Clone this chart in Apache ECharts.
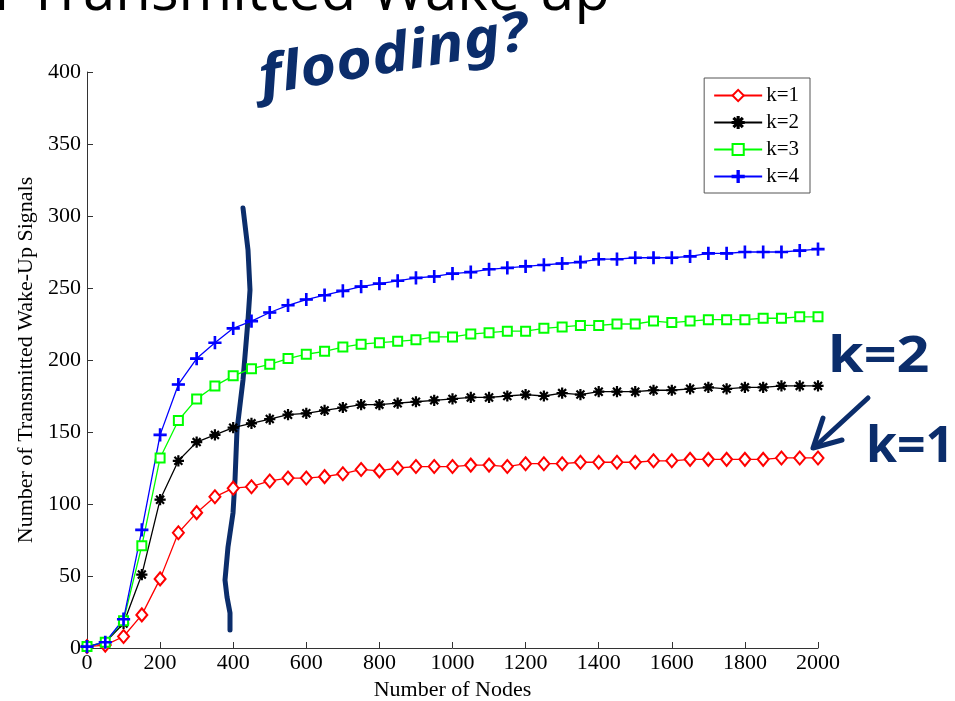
<!DOCTYPE html>
<html>
<head>
<meta charset="utf-8">
<script src="https://cdn.jsdelivr.net/npm/echarts@6/dist/echarts.min.js"></script>
<style>
    html, body { margin: 0; padding: 0; background: #fff; }
    #container { width: 955px; height: 701px; }
</style>
</head>
<body>
<div id="container"></div>
<script>
    // 节点数 (x轴)
    let nodes = [0, 50, 100, 150, 200, 250, 300, 350, 400, 450, 500, 550, 600, 650, 700, 750, 800, 850, 900, 950,
        1000, 1050, 1100, 1150, 1200, 1250, 1300, 1350, 1400, 1450, 1500, 1550, 1600, 1650, 1700, 1750, 1800, 1850, 1900, 1950, 2000];
    let k1 = [1, 2, 8, 23, 48, 80, 94, 105, 111, 112, 116, 118, 118, 119, 121, 124, 123, 125, 126, 126,
        126, 127, 127, 126, 128, 128, 128, 129, 129, 129, 129, 130, 130, 131, 131, 131, 131, 131, 132, 132, 132];
    let k2 = [1, 4, 17, 51, 103, 130, 143, 148, 153, 156, 159, 162, 163, 165, 167, 169, 169, 170, 171, 172,
        173, 174, 174, 175, 176, 175, 177, 176, 178, 178, 178, 179, 179, 180, 181, 180, 181, 181, 182, 182, 182];
    let k3 = [1, 4, 19, 71, 132, 158, 173, 182, 189, 194, 197, 201, 204, 206, 209, 211, 212, 213, 214, 216,
        216, 218, 219, 220, 220, 222, 223, 224, 224, 225, 225, 227, 226, 227, 228, 228, 228, 229, 229, 230, 230];
    let k4 = [1, 4, 20, 82, 148, 183, 201, 212, 222, 227, 233, 238, 242, 245, 248, 251, 253, 255, 257, 258,
        260, 261, 263, 264, 265, 266, 267, 268, 270, 270, 271, 271, 271, 272, 274, 274, 275, 275, 275, 276, 277];
    let legendData = ['k=1', 'k=2', 'k=3', 'k=4'];

    let serif = 'Liberation Serif';
    let ink = '#0b2d6b'; // 手写批注颜色

    // 星号 / 加号 标记
    let starPath = 'path://M4.5 0h1v10h-1z M0 4.5h10v1h-10z M1.1 1.8l0.7-0.7 7.1 7.1-0.7 0.7z M8.2 1.1l0.7 0.7-7.1 7.1-0.7-0.7z';
    let plusPath = 'path://M4.4 0h1.2v10h-1.2z M0 4.4h10v1.2h-10z';

    function toPairs(values) {
        return values.map(function (v, i) { return [nodes[i], v]; });
    }

    function makeSeries(name, values, color, symbol, size) {
        return {
            name: name,
            type: 'line',
            data: toPairs(values),
            symbol: symbol,
            symbolSize: size,
            showAllSymbol: true,
            lineStyle: { color: color, width: 1.3 },
            itemStyle: { color: color, borderColor: color, borderWidth: 1.2 },
            emphasis: { disabled: true }
        };
    }

    // 图表加载
    function getCharts() {
        let dom = document.getElementById('container');
        let myChart = echarts.init(dom, null, { renderer: 'canvas' });
        let option = {
            animation: false,
            backgroundColor: '#fff',
            grid: { left: 87, right: 137, top: 72, bottom: 53, containLabel: false, outerBoundsMode: 'none' },
            legend: {
                data: legendData,
                orient: 'vertical',
                right: 145,
                top: 78,
                padding: [7, 11, 6, 9],
                itemWidth: 48,
                itemHeight: 14,
                itemGap: 6,
                borderColor: '#555',
                borderWidth: 1,
                textStyle: { fontFamily: serif, fontSize: 21, color: '#000', padding: [0, 0, 0, -1] }
            },
            xAxis: {
                type: 'value',
                min: 0,
                max: 2000,
                interval: 200,
                name: 'Number of Nodes',
                nameLocation: 'middle',
                nameGap: 30,
                nameTextStyle: { fontFamily: serif, fontSize: 22, color: '#000' },
                axisLine: { lineStyle: { color: '#333', width: 1 } },
                axisTick: { inside: true, length: 6, lineStyle: { color: '#333' } },
                axisLabel: {
                    fontFamily: serif, fontSize: 22, color: '#000', margin: 4,
                    formatter: function (v) { return String(v); }
                },
                splitLine: { show: false }
            },
            yAxis: {
                type: 'value',
                min: 0,
                max: 400,
                interval: 50,
                name: 'Number of Transmitted Wake-Up Signals',
                nameLocation: 'middle',
                nameGap: 46,
                nameTextStyle: { fontFamily: serif, fontSize: 22, color: '#000' },
                axisLine: { show: true, lineStyle: { color: '#333', width: 1 } },
                axisTick: { show: true, inside: true, length: 6, lineStyle: { color: '#333' } },
                axisLabel: { fontFamily: serif, fontSize: 22, color: '#000', margin: 6 },
                splitLine: { show: false }
            },
            series: [
                makeSeries(legendData[0], k1, '#ff0000', 'emptyDiamond', [11, 13]),
                makeSeries(legendData[1], k2, '#000000', starPath, 10),
                makeSeries(legendData[2], k3, '#00ff00', 'emptyRect', 9),
                makeSeries(legendData[3], k4, '#0000ff', plusPath, 12)
            ],
            graphic: [
                // 幻灯片标题(被裁掉一半)
                { type: 'text', left: -42, top: -36, style: { text: 'of Transmitted Wake-up', fontFamily: 'Open Sans', fontSize: 58, fill: '#000' } },
                // 手写批注
                { type: 'text', x: 264, y: 106, rotation: 0.17, scaleX: 1.15, style: { text: 'flooding?', fontFamily: 'Noto Sans', fontWeight: 'bold', fontStyle: 'italic', fontSize: 54, fill: ink, textVerticalAlign: 'bottom' } },
                { type: 'polyline', shape: { points: [[243, 208], [248, 250], [250, 290], [248, 320], [243, 380], [237, 430], [235, 480], [233, 513], [228, 547], [225, 580], [227, 597], [230, 613], [230, 630]] },
                  style: { stroke: ink, lineWidth: 5, lineCap: 'round', lineJoin: 'round', fill: null } },
                { type: 'text', x: 828, y: 358, scaleX: 1.15, style: { text: 'k=2', fontFamily: 'Noto Sans', fontWeight: 'bold', fontSize: 50, fill: ink, textVerticalAlign: 'middle' } },
                { type: 'text', x: 866, y: 448, style: { text: 'k=1', fontFamily: 'Noto Sans', fontWeight: 'bold', fontSize: 50, fill: ink, textVerticalAlign: 'middle' } },
                { type: 'line', shape: { x1: 868, y1: 398, x2: 818, y2: 444 }, style: { stroke: ink, lineWidth: 5, lineCap: 'round' } },
                { type: 'polyline', shape: { points: [[823, 418], [813, 448], [842, 440]] }, style: { stroke: ink, lineWidth: 5, lineCap: 'round', lineJoin: 'round', fill: null } }
            ]
        };
        myChart.setOption(option, true);
    }

    getCharts();
</script>
</body>
</html>
